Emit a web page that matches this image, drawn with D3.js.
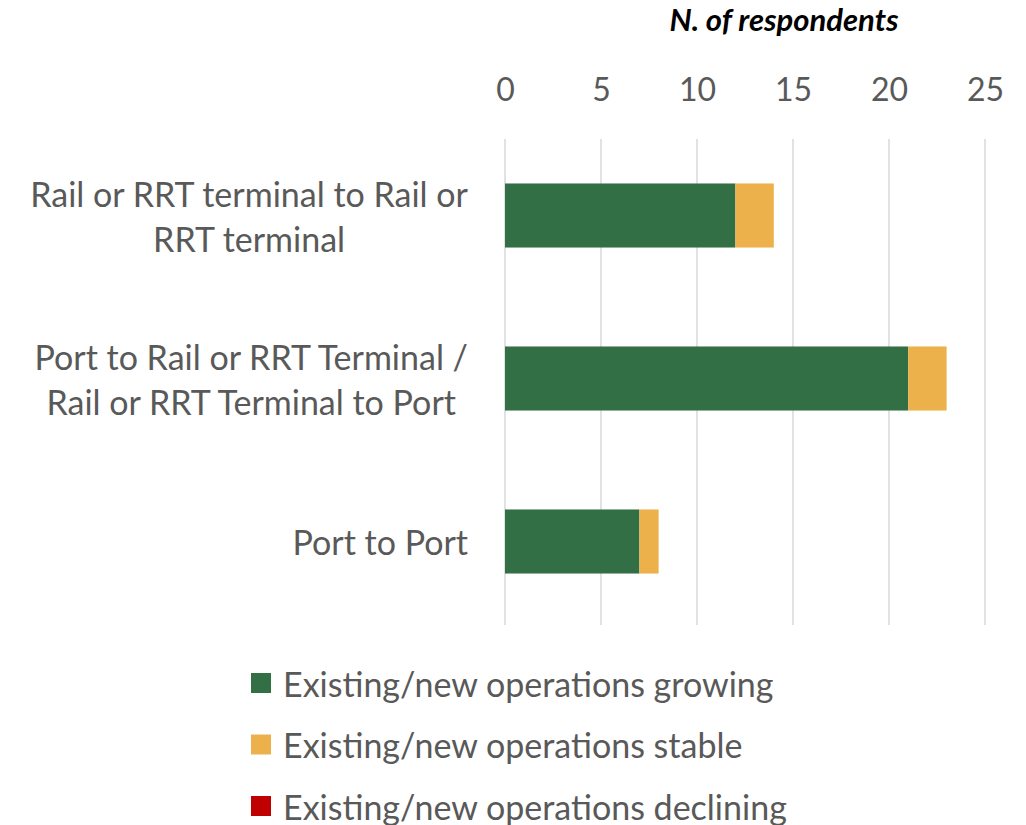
<!DOCTYPE html>
<html>
<head>
<meta charset="utf-8">
<script src="https://cdn.jsdelivr.net/npm/d3@7"></script>
<style>
  body { margin: 0; background: #fff; }
  text { font-family: Lato, "Liberation Sans", sans-serif; }
</style>
</head>
<body>
<div id="container"></div>
<script>
/* data */
const categories = [
  ["Rail or RRT terminal to Rail or", "RRT terminal"],
  ["Port to Rail or RRT Terminal /", "Rail or RRT Terminal to Port"],
  ["Port to Port"]
];
const growing = [12, 21, 7];
const stable = [2, 2, 1];
const declining = [0, 0, 0];
const seriesNames = ["Existing/new operations growing", "Existing/new operations stable", "Existing/new operations declining"];
const seriesColors = ["#336f45", "#ecb14a", "#c00000"];
const xTicks = [0, 5, 10, 15, 20, 25];

const width = 1026, height = 825;
const textColor = "#595959";

const svg = d3.select("#container").append("svg")
  .attr("width", width)
  .attr("height", height);

// scales
const xScale = d3.scaleLinear()
  .domain([0, 25])
  .range([505, 985]);

const yScale = d3.scaleBand()
  .domain(d3.range(categories.length))
  .range([134, 623])
  .paddingInner(0.607)
  .paddingOuter(0.3035);

// gridlines
svg.append("g")
  .selectAll("line")
  .data(xTicks)
  .join("line")
  .attr("x1", d => xScale(d))
  .attr("x2", d => xScale(d))
  .attr("y1", 139)
  .attr("y2", 625)
  .attr("stroke", "#d9d9d9")
  .attr("stroke-width", 1.5);

// top axis
const xAxis = svg.append("g")
  .attr("transform", "translate(0,101)")
  .call(d3.axisTop(xScale).tickValues(xTicks).tickSize(0).tickPadding(0));
xAxis.select(".domain").remove();
xAxis.selectAll("text")
  .attr("font-family", "Lato, 'Liberation Sans', sans-serif")
  .attr("font-size", 32)
  .attr("fill", textColor);

// axis title
svg.append("text")
  .attr("x", 784)
  .attr("y", 31)
  .attr("text-anchor", "middle")
  .attr("font-size", 31)
  .attr("font-weight", "bold")
  .attr("font-style", "italic")
  .attr("fill", "#000")
  .text("N. of respondents");

// stacked bars
const stackData = categories.map((c, i) => ({i, growing: growing[i], stable: stable[i], declining: declining[i]}));
const stack = d3.stack().keys(["growing", "stable", "declining"]);
const layers = stack(stackData);

svg.append("g")
  .selectAll("g")
  .data(layers)
  .join("g")
  .attr("fill", (d, k) => seriesColors[k])
  .selectAll("rect")
  .data(d => d)
  .join("rect")
  .attr("x", d => xScale(d[0]))
  .attr("y", d => yScale(d.data.i))
  .attr("width", d => xScale(d[1]) - xScale(d[0]))
  .attr("height", yScale.bandwidth());

// category labels
const labelRight = 468, lineGap = 45;
categories.forEach((lines, i) => {
  const cy = yScale(i) + yScale.bandwidth() / 2;
  const g = svg.append("g");
  const texts = g.selectAll("text")
    .data(lines)
    .join("text")
    .attr("font-size", 34)
    .attr("fill", textColor)
    .attr("text-anchor", "middle")
    .attr("dominant-baseline", "central")
    .attr("y", (d, j) => cy + (j - (lines.length - 1) / 2) * lineGap)
    .text(d => d);
  const blockW = d3.max(texts.nodes(), n => n.getComputedTextLength());
  texts.attr("x", labelRight - blockW / 2);
});

// legend
const legend = svg.append("g")
  .selectAll("g")
  .data(seriesNames)
  .join("g")
  .attr("transform", (d, i) => `translate(251,${683 + i * 61.5})`);
legend.append("rect")
  .attr("x", 0)
  .attr("y", -10)
  .attr("width", 20)
  .attr("height", 20)
  .attr("fill", (d, i) => seriesColors[i]);
legend.append("text")
  .attr("x", 32)
  .attr("y", 0)
  .attr("dominant-baseline", "central")
  .attr("font-size", 34)
  .attr("fill", textColor)
  .text(d => d);
</script>
</body>
</html>
